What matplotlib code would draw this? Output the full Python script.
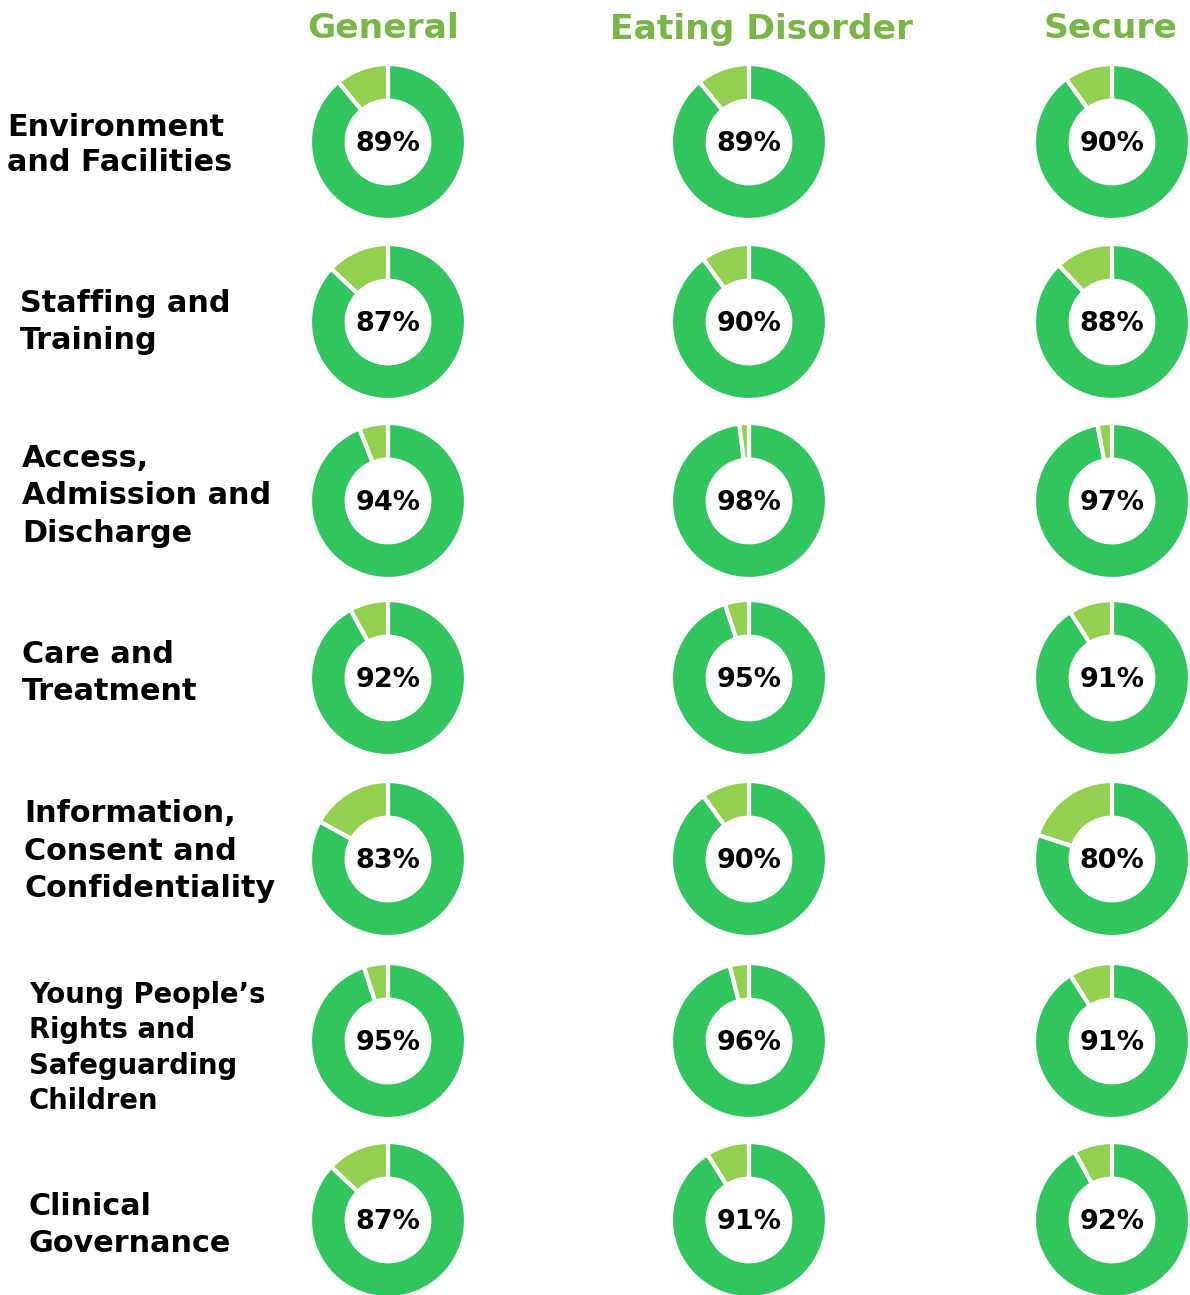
import matplotlib
matplotlib.use("Agg")
import matplotlib.pyplot as plt

groups = ["General", "Eating Disorder", "Secure"]
categories = [
    "Environment\nand Facilities",
    "Staffing and\nTraining",
    "Access,\nAdmission and\nDischarge",
    "Care and\nTreatment",
    "Information,\nConsent and\nConfidentiality",
    "Young People\u2019s\nRights and\nSafeguarding\nChildren",
    "Clinical\nGovernance",
]
general = [89, 87, 94, 92, 83, 95, 87]
eating_disorder = [89, 90, 98, 95, 90, 96, 91]
secure = [90, 88, 97, 91, 80, 91, 92]
values = [general, eating_disorder, secure]

W, H = 1190, 1295
fig = plt.figure(figsize=(W / 100, H / 100), dpi=100)
fig.patch.set_facecolor("white")

MAIN = "#31C55D"
REST = "#92D050"
HEAD = "#78B646"
FONT = ["DejaVu Sans"]

col_x = [388, 749, 1112]
row_y = [142, 322, 501, 678, 859, 1041, 1220]
head_x = [383, 762, 1110]
label_x = [7, 20, 22, 22, 24, 29, 28]
label_y = [145, 322, 496, 673, 851, 1048, 1225]
label_fs = [21.8, 21.8, 21.8, 21.8, 21.8, 19.8, 21.8]
label_ls = [1.3, 1.33, 1.36, 1.31, 1.36, 1.33, 1.31]
R = 78

for j, g in enumerate(groups):
    fig.text(head_x[j] / W, 1 - 29 / H, g, ha="center", va="center",
             fontsize=24.8, fontweight="bold", color=HEAD, family=FONT)

for i, cat in enumerate(categories):
    fig.text(label_x[i] / W, 1 - label_y[i] / H, cat, ha="left", va="center",
             fontsize=label_fs[i], fontweight="bold", color="black",
             family=FONT, linespacing=label_ls[i])
    for j in range(3):
        v = values[j][i]
        cx, cy = col_x[j], row_y[i]
        ax = fig.add_axes([(cx - R) / W, 1 - (cy + R) / H, 2 * R / W, 2 * R / H])
        ax.pie([v, 100 - v], colors=[MAIN, REST], startangle=90,
               counterclock=False,
               wedgeprops=dict(width=0.47, edgecolor="white", linewidth=3))
        ax.set_aspect("equal")
        ax.set_xlim(-1, 1)
        ax.set_ylim(-1, 1)
        ax.axis("off")
        ax.text(0, -0.03, f"{v}%", ha="center", va="center", fontsize=19.5,
                fontweight="bold", color="black", family=FONT)

fig.savefig("out.png", dpi=100, facecolor="white")
